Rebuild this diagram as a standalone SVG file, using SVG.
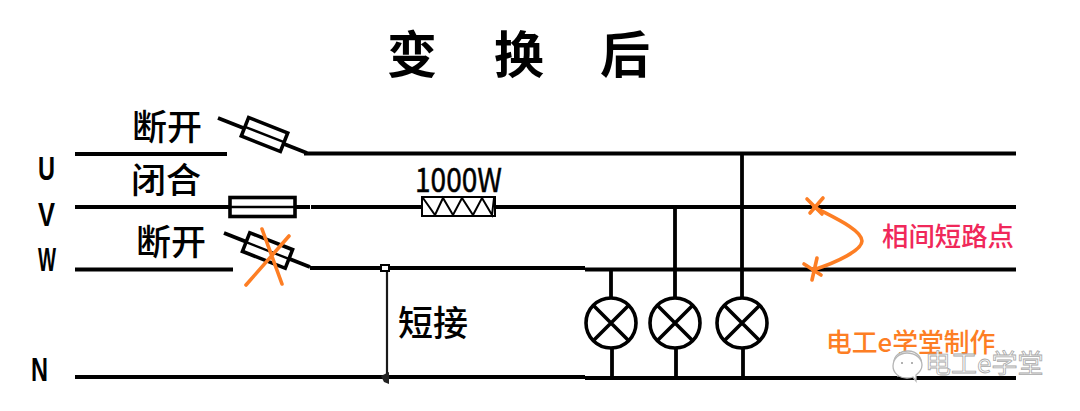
<svg xmlns="http://www.w3.org/2000/svg" width="1080" height="411" viewBox="0 0 1080 411">
<style>
.w{fill:none;stroke:#000;stroke-width:3.8}
.thin{fill:none;stroke:#1a1a1a;stroke-width:2.2}
.lamp{fill:#fff;stroke:#000;stroke-width:3.6}
.x{fill:none;stroke:#000;stroke-width:3.6}
.o{fill:none;stroke:#fd7e24;stroke-width:3.6;stroke-linecap:round;stroke-linejoin:round}
.fuse{fill:#fff;stroke:#000;stroke-width:3.6}
.core{fill:none;stroke:#000;stroke-width:2.4}
text{font-family:"Noto Sans CJK SC","Noto Sans",sans-serif}
.l{font-size:35px;font-weight:500;fill:#000}
.p{font-size:33px;font-weight:700;font-family:"Liberation Sans","Noto Sans CJK SC",sans-serif;fill:#000}
.t{font-size:50px;font-weight:700;fill:#000}
.wm{font-size:26px;fill:#fff;stroke:#a8a8a8;stroke-width:.8}
.b{fill:#fff;stroke:#b5b5b5;stroke-width:1.3}
</style>
<rect width="1080" height="411" fill="#fff"/>
<g id="title"><text class="t" x="387" y="73">变</text><text class="t" x="494" y="73">换</text><text class="t" x="600" y="73">后</text></g>
<g id="connectors">
<path class="w" d="M75 154H227M304 153.500H1016"/>
<path class="w" d="M218 118L307 153"/>
<path class="w" d="M75 207H310M311 207H1016"/>
<path class="w" d="M75 269.500H233M310 268H585M585 269.500H1016"/>
<path class="w" d="M224 233L310 267"/>
<path class="w" d="M75 377H585M585 378H1016"/>
<path class="thin" d="M387 268V377"/>
<path class="w" d="M611 269V300M675 207V300M742 153V300M612 345V378M676 345V378M743 345V378"/>
</g>
<g id="fuse-u"><g transform="translate(264.500 134.500) rotate(21.500)"><rect class="fuse" x="-21" y="-10" width="42" height="20"/><path class="core" d="M-21 0H21"/></g></g>
<g id="fuse-v"><rect class="fuse" x="230" y="197.500" width="65" height="19"/><path class="core" d="M230 207H295"/></g>
<g id="fuse-w"><g transform="translate(267.500 250.500) rotate(21.500)"><rect class="fuse" x="-23" y="-10" width="46" height="20"/><path class="core" d="M-23 0H23"/></g></g>
<g id="resistor"><rect x="422" y="197" width="73" height="19" fill="#fff" stroke="#000" stroke-width="2"/><path d="M423 198L435 215L443 198L453 215L462 198L473 215L482 198L492 215L494 198" fill="none" stroke="#000" stroke-width="2"/></g>
<g id="joint-top"><rect x="381" y="265" width="8" height="6" fill="#fff" stroke="#000" stroke-width="2"/></g>
<g id="joint-bottom"><path d="M381 376L389 372V384L384 382Z" fill="#222"/></g>
<g id="lamp-1"><circle class="lamp" cx="611" cy="323" r="25"/><path class="x" d="M593 305L629 341M629 305L593 341"/></g>
<g id="lamp-2"><circle class="lamp" cx="675" cy="323" r="25"/><path class="x" d="M657 305L693 341M693 305L657 341"/></g>
<g id="lamp-3"><circle class="lamp" cx="742" cy="323" r="25"/><path class="x" d="M724 305L760 341M760 305L724 341"/></g>
<g id="marks">
<path class="o" d="M246 285L289 236M262 229L282 284"/>
<path class="o" d="M807 199L822 214M823 198L810 213"/>
<path class="o" d="M814 207C835 218 862 230 862 241C862 250 838 262 813 270"/>
<path class="o" d="M804 264L821 275M817 258L812 280"/>
</g>
<g id="labels">
<text class="p" x="38" y="180" textLength="17" lengthAdjust="spacingAndGlyphs">U</text>
<text class="p" x="38" y="225.500" textLength="17" lengthAdjust="spacingAndGlyphs">V</text>
<text class="p" x="38" y="271" textLength="18" lengthAdjust="spacingAndGlyphs">W</text>
<text class="p" x="31" y="381" textLength="17" lengthAdjust="spacingAndGlyphs">N</text>
<text class="l" x="132" y="140">断开</text><text class="l" x="131" y="193">闭合</text><text class="l" x="136" y="255">断开</text>
<text class="l" x="398" y="336">短接</text>
<text x="415" y="192" font-size="33" fill="#000" stroke="#000" stroke-width=".5" font-family="'Liberation Sans','Noto Sans',sans-serif" textLength="87" lengthAdjust="spacingAndGlyphs">1000W</text>
<text x="882" y="246" font-size="26.400" font-weight="500" fill="#f0285a">相间短路点</text>
<text x="826" y="352" font-size="25.800" font-weight="500" fill="#fd7e24">电工e学堂制作</text>
</g>
<g id="watermark">
<text class="wm" x="925" y="373">电工e学堂</text>
<path class="b" d="M908 351C900 351 894 356 894 362C894 366 896 369 899 371L898 376L904 373C910 374 918 372 921 366C923 358 917 351 908 351Z"/>
<path class="b" d="M907 354C899 354 893 360 893 367C893 374 899 379 907 379C909 379 911 379 913 378L916 382L916 376C920 373 922 370 922 366C922 359 915 354 907 354Z" transform="translate(0 -1)"/>
<circle cx="902" cy="363" r="1" fill="#999"/><circle cx="912" cy="363" r="1" fill="#999"/>
</g>
</svg>
